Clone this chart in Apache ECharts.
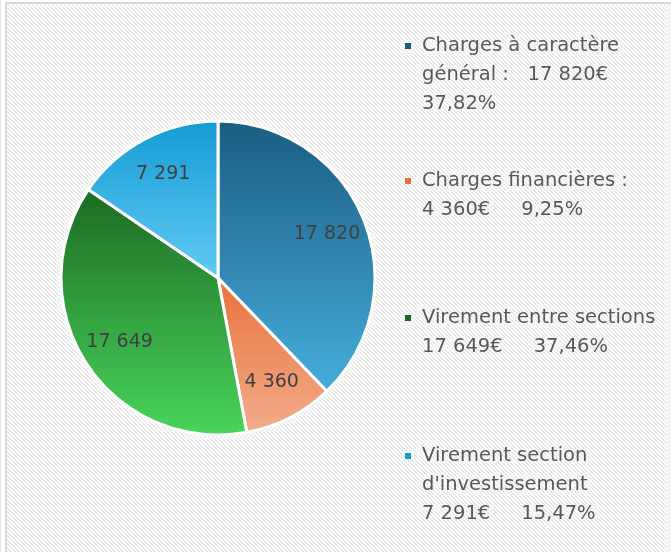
<!DOCTYPE html>
<html>
<head>
<meta charset="utf-8">
<script src="https://cdn.jsdelivr.net/npm/echarts@6/dist/echarts.min.js"></script>
<style>
  html, body { margin: 0; padding: 0; background: #ffffff; }
  #wrap { position: relative; width: 671px; height: 552px; overflow: hidden; background: #fff; }
  #edge { position: absolute; left: 0; top: 0; width: 1px; height: 552px; background: #dfe7f1; }
  #frame { position: absolute; left: 5px; top: 2px; right: 0; bottom: 0;
    border-left: 2px solid #d9d9d9; border-top: 2px solid #d9d9d9;
    background-color: #fff;
    background-image: url("data:image/svg+xml;utf8,<svg xmlns='http://www.w3.org/2000/svg' width='4' height='4' shape-rendering='crispEdges'><rect width='4' height='4' fill='white'/><path d='M0 0h2v1H0zM1 1h2v1H1zM2 2h2v1H2zM3 3h1v1H3zM0 3h1v1H0z' fill='%23ebebeb'/></svg>");
    background-repeat: repeat; }
  #chart { position: absolute; left: 0; top: 0; width: 671px; height: 552px; }
</style>
</head>
<body>
<div id="wrap">
  <div id="edge"></div>
  <div id="frame"></div>
  <div id="chart"></div>
</div>
<script>
// ---- data ----
const categories = ['Charges à caractère général', 'Charges financières', 'Virement entre sections', "Virement section d'investissement"];
const values = [17820, 4360, 17649, 7291];
// legend label templates ({v} = value, {p} = percentage)
const legendTemplates = [
  'Charges à caractère\ngénéral :   {v}€\n{p}%',
  'Charges financières :\n{v}€     {p}%',
  'Virement entre sections\n{v}€     {p}%',
  'Virement section\nd\'investissement\n{v}€     {p}%'
];
const gradientTops = ['#1a5c80', '#e8713a', '#1d6a22', '#149bd5'];
const gradientBottoms = ['#46addd', '#f2ad8c', '#48d55c', '#62cbf3'];

// ---- helpers ----
const total = values.reduce((a, b) => a + b, 0);
const fmt = v => String(v).replace(/\B(?=(\d{3})+(?!\d))/g, ' ');
const pct = v => (v / total * 100).toFixed(2).replace('.', ',');
const legendText = categories.map((c, i) =>
  legendTemplates[i].replace('{v}', fmt(values[i])).replace('{p}', pct(values[i])));

const FONT = '"DejaVu Sans", sans-serif';
const FS = 19;
const LEGEND_FS = 19.5;
const LH = 29;
const ICON = 6;
const legendTops = [31.5, 166.5, 303.5, 441.5];

const chart = echarts.init(document.getElementById('chart'), null, { renderer: 'canvas' });

const pieData = categories.map((c, i) => ({
  name: c,
  value: values[i],
  itemStyle: {
    color: new echarts.graphic.LinearGradient(0, 0, 0, 1, [
      { offset: 0, color: gradientTops[i] },
      { offset: 1, color: gradientBottoms[i] }
    ])
  }
}));

// icon: a small square aligned with the first text line, inside a box as tall as the text block
function iconPath(lines) {
  const h = lines * LH;
  const y = LH / 2 - ICON / 2;
  return 'path://M0,0h0.01v0.01h-0.01z M0,' + y + 'h' + ICON + 'v' + ICON + 'h-' + ICON + 'z M0,' + (h - 0.01) + 'h0.01v0.01h-0.01z';
}

const legends = categories.map((c, i) => {
  const lines = legendText[i].split('\n').length;
  return {
    data: [{ name: c, icon: iconPath(lines), itemStyle: { color: gradientTops[i] } }],
    orient: 'vertical',
    left: 405,
    top: legendTops[i],
    padding: 0,
    itemWidth: ICON,
    itemHeight: lines * LH,
    itemStyle: { borderWidth: 0 },
    selectedMode: false,
    formatter: () => legendText[i],
    textStyle: {
      fontFamily: FONT,
      fontSize: LEGEND_FS,
      color: '#595959',
      lineHeight: LH,
      padding: [0, 0, 0, 6]
    }
  };
});

chart.setOption({
  backgroundColor: 'transparent',
  animation: false,
  legend: legends,
  series: [
    {
      type: 'pie',
      center: [218, 278],
      radius: [0, 157],
      startAngle: 90,
      clockwise: true,
      silent: true,
      label: { show: false },
      labelLine: { show: false },
      itemStyle: { borderColor: '#ffffff', borderWidth: 3 },
      data: pieData
    },
    {
      type: 'pie',
      center: [218, 278],
      radius: [72, 157],
      startAngle: 90,
      clockwise: true,
      silent: true,
      itemStyle: { color: 'transparent', borderWidth: 0 },
      label: {
        show: true,
        position: 'inside',
        formatter: p => fmt(p.value),
        fontFamily: FONT,
        fontSize: FS,
        color: '#404040'
      },
      labelLine: { show: false },
      data: categories.map((c, i) => ({ name: c, value: values[i] }))
    }
  ]
});
</script>
</body>
</html>
